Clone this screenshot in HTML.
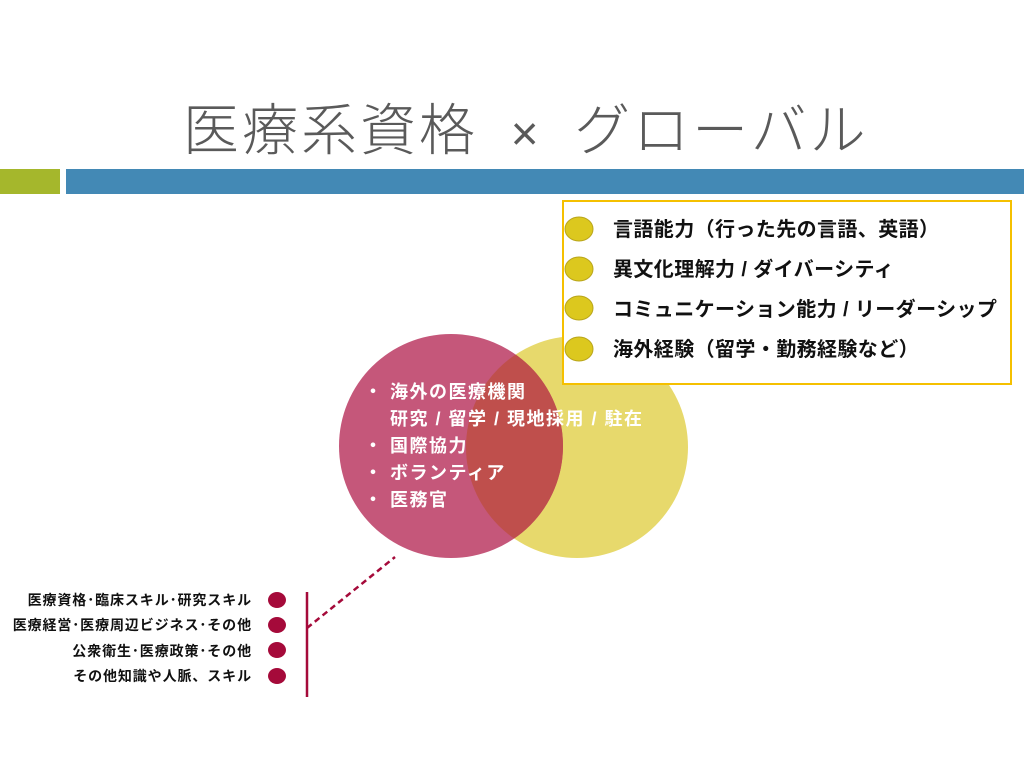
<!DOCTYPE html>
<html><head><meta charset="utf-8"><style>
body{margin:0;width:1024px;height:768px;background:#fff;position:relative;overflow:hidden;font-family:"Liberation Sans","Noto Sans CJK JP",sans-serif}
.t{position:absolute;white-space:nowrap}
</style></head><body>
<div class="t" style="left:183px;top:86px;font-size:56px;color:#5a5a5a;font-weight:300;letter-spacing:3px">医療系資格 <span style="font-size:48px;margin:0 14px">×</span> グローバル</div>
<div style="position:absolute;left:0;top:169px;width:60px;height:25px;background:#a5b72c"></div>
<div style="position:absolute;left:66px;top:169px;width:958px;height:25px;background:#4389b5"></div>
<svg style="position:absolute;left:0;top:0" width="1024" height="768">
<defs><clipPath id="c"><circle cx="577" cy="447" r="111"/></clipPath></defs>
<circle cx="577" cy="447" r="111" fill="#e7d96c"/>
<circle cx="451" cy="446" r="112" fill="#c5577a"/>
<circle cx="451" cy="446" r="112" fill="#bf4f4c" clip-path="url(#c)"/>
<line x1="307" y1="628" x2="395" y2="557" stroke="#a50a3a" stroke-width="2.5" stroke-dasharray="6,4"/>
<line x1="307" y1="592" x2="307" y2="697" stroke="#a50a3a" stroke-width="2.5"/>
<g fill="#a50a3a"><ellipse cx="277" cy="600" rx="9" ry="8"/><ellipse cx="277" cy="625" rx="9" ry="8"/><ellipse cx="277" cy="650" rx="9" ry="8"/><ellipse cx="277" cy="676" rx="9" ry="8"/></g>
<rect x="563" y="201" width="448" height="183" fill="#fff" stroke="#f5c000" stroke-width="2"/>
<g fill="#dcc81e" stroke="#b9a51a" stroke-width="1"><ellipse cx="579" cy="229" rx="14" ry="12"/><ellipse cx="579" cy="269" rx="14" ry="12"/><ellipse cx="579" cy="308" rx="14" ry="12"/><ellipse cx="579" cy="349" rx="14" ry="12"/></g>
</svg>
<div class="t" style="left:613px;top:210px;font-size:20px;line-height:40px;font-weight:bold;color:#111;letter-spacing:0.4px">言語能力（行った先の言語、英語）<br>異文化理解力 / ダイバーシティ<br>コミュニケーション能力 / リーダーシップ<br>海外経験（留学・勤務経験など）</div>
<div class="t" style="left:364px;top:379px;font-size:18px;line-height:27px;font-weight:bold;color:#fff;letter-spacing:1.5px">・ 海外の医療機関<br>&nbsp;&nbsp;&nbsp;&nbsp;研究 / 留学 / 現地採用 / 駐在<br>・ 国際協力<br>・ ボランティア<br>・ 医務官</div>
<div class="t" style="right:772px;top:588px;font-size:14px;line-height:25.3px;font-weight:bold;color:#111;text-align:right;letter-spacing:0.9px">医療資格･臨床スキル･研究スキル<br>医療経営･医療周辺ビジネス･その他<br>公衆衛生･医療政策･その他<br>その他知識や人脈、スキル</div>
</body></html>
